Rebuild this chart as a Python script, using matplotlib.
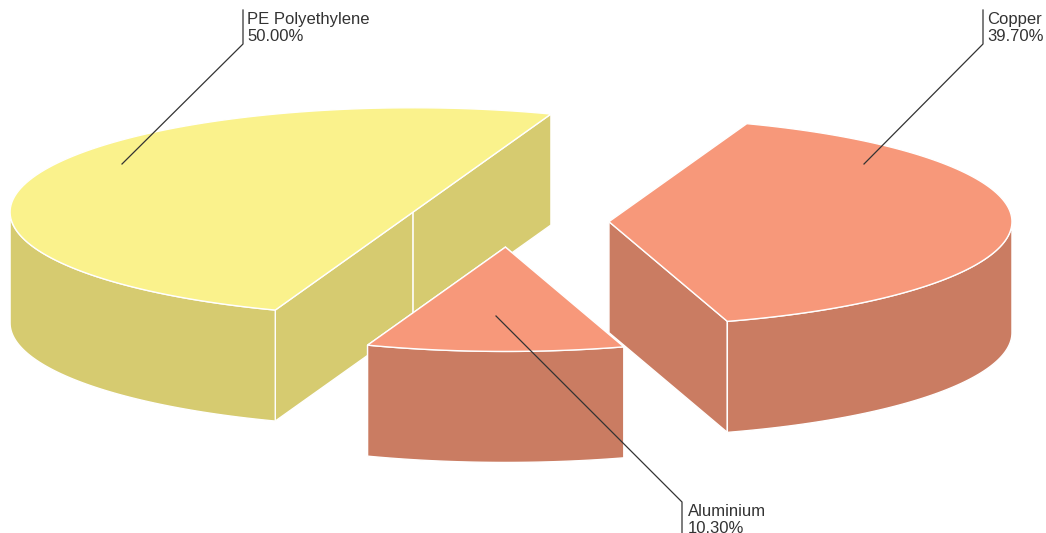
import numpy as np
import matplotlib
matplotlib.use('Agg')
import matplotlib.pyplot as plt
from matplotlib.patches import Polygon

plt.rcParams['font.family'] = ['Liberation Sans', 'DejaVu Sans']

# data, clockwise from the start angle
labels = ['Copper', 'Aluminium', 'PE Polyethylene']
values = [39.70, 10.30, 50.00]

top_colors = ['#F7987A', '#F7987A', '#FAF28C']
side_colors = ['#CA7C62', '#CA7C62', '#D6CB70']

# pie geometry in pixels
cx, cy = 508, 221
rx, ry = 403, 104.3
depth = 111
explode = 101
start_angle = 70

# leader lines: inside point, elbow, end of the bar next to the text
leaders = {
    'Copper': [(864, 164), (983, 44), (983, 10)],
    'Aluminium': [(496, 316), (682, 502), (682, 533)],
    'PE Polyethylene': [(122, 164), (243, 44), (243, 10)],
}
text_pos = {
    'Copper': (987.5, 12),
    'Aluminium': (687.5, 504),
    'PE Polyethylene': (247, 12),
}


def arc(x0, y0, a0, a1, n=120):
    # points along the ellipse, angles in degrees, y pointing down
    t = np.radians(np.linspace(a0, a1, n))
    return np.column_stack([x0 + rx * np.cos(t), y0 - ry * np.sin(t)])


def face(ax, pts, color, z):
    ax.add_patch(Polygon(pts, closed=True, facecolor=color, edgecolor='white',
                         linewidth=1.0, joinstyle='round', zorder=z))


def wedge(ax, a_hi, a_lo, top, side, z):
    # a_hi > a_lo, wedge runs clockwise from a_hi to a_lo
    mid = np.radians((a_hi + a_lo) / 2)
    x0 = cx + explode * np.cos(mid)
    y0 = cy - explode * ry / rx * np.sin(mid)
    apex = np.array([[x0, y0]])
    drop = np.array([0, depth])

    outer = arc(x0, y0, a_hi, a_lo)

    # flat cut faces
    for p in (outer[0], outer[-1]):
        pts = np.array([apex[0], p, p + drop, apex[0] + drop])
        face(ax, pts, side, z)

    # curved rim, only the part on the front of the ellipse
    lo = a_lo % 360
    hi = lo + (a_hi - a_lo)
    front = []
    for k in (0, 1):
        s = max(lo, 180 + 360 * k)
        e = min(hi, 360 + 360 * k)
        if e > s:
            front.append((s, e))
    for s, e in front:
        rim = arc(x0, y0, s, e)
        face(ax, np.vstack([rim, rim[::-1] + drop]), side, z + 0.1)

    # top
    face(ax, np.vstack([apex, outer]), top, z + 0.2)


fig = plt.figure(figsize=(10.46, 5.33), dpi=100)
ax = fig.add_axes([0, 0, 1, 1])
ax.set_xlim(0, 1046)
ax.set_ylim(533, 0)
ax.axis('off')

# back to front: PE, Copper, Aluminium
angle = start_angle
spans = {}
for name, v in zip(labels, values):
    sweep = v / sum(values) * 360
    spans[name] = (angle, angle - sweep)
    angle -= sweep

order = {'PE Polyethylene': 1, 'Copper': 2, 'Aluminium': 3}
for i, name in enumerate(labels):
    a_hi, a_lo = spans[name]
    wedge(ax, a_hi, a_lo, top_colors[i], side_colors[i], order[name])

for name, v in zip(labels, values):
    xs, ys = zip(*leaders[name])
    ax.plot(xs, ys, color='#333333', linewidth=0.9, zorder=5)
    x, y = text_pos[name]
    ax.text(x, y, name + '\n' + '%.2f%%' % v, fontsize=12, color='#333333',
            ha='left', va='top', linespacing=1.17, zorder=6)

fig.savefig('out.png', dpi=100)
